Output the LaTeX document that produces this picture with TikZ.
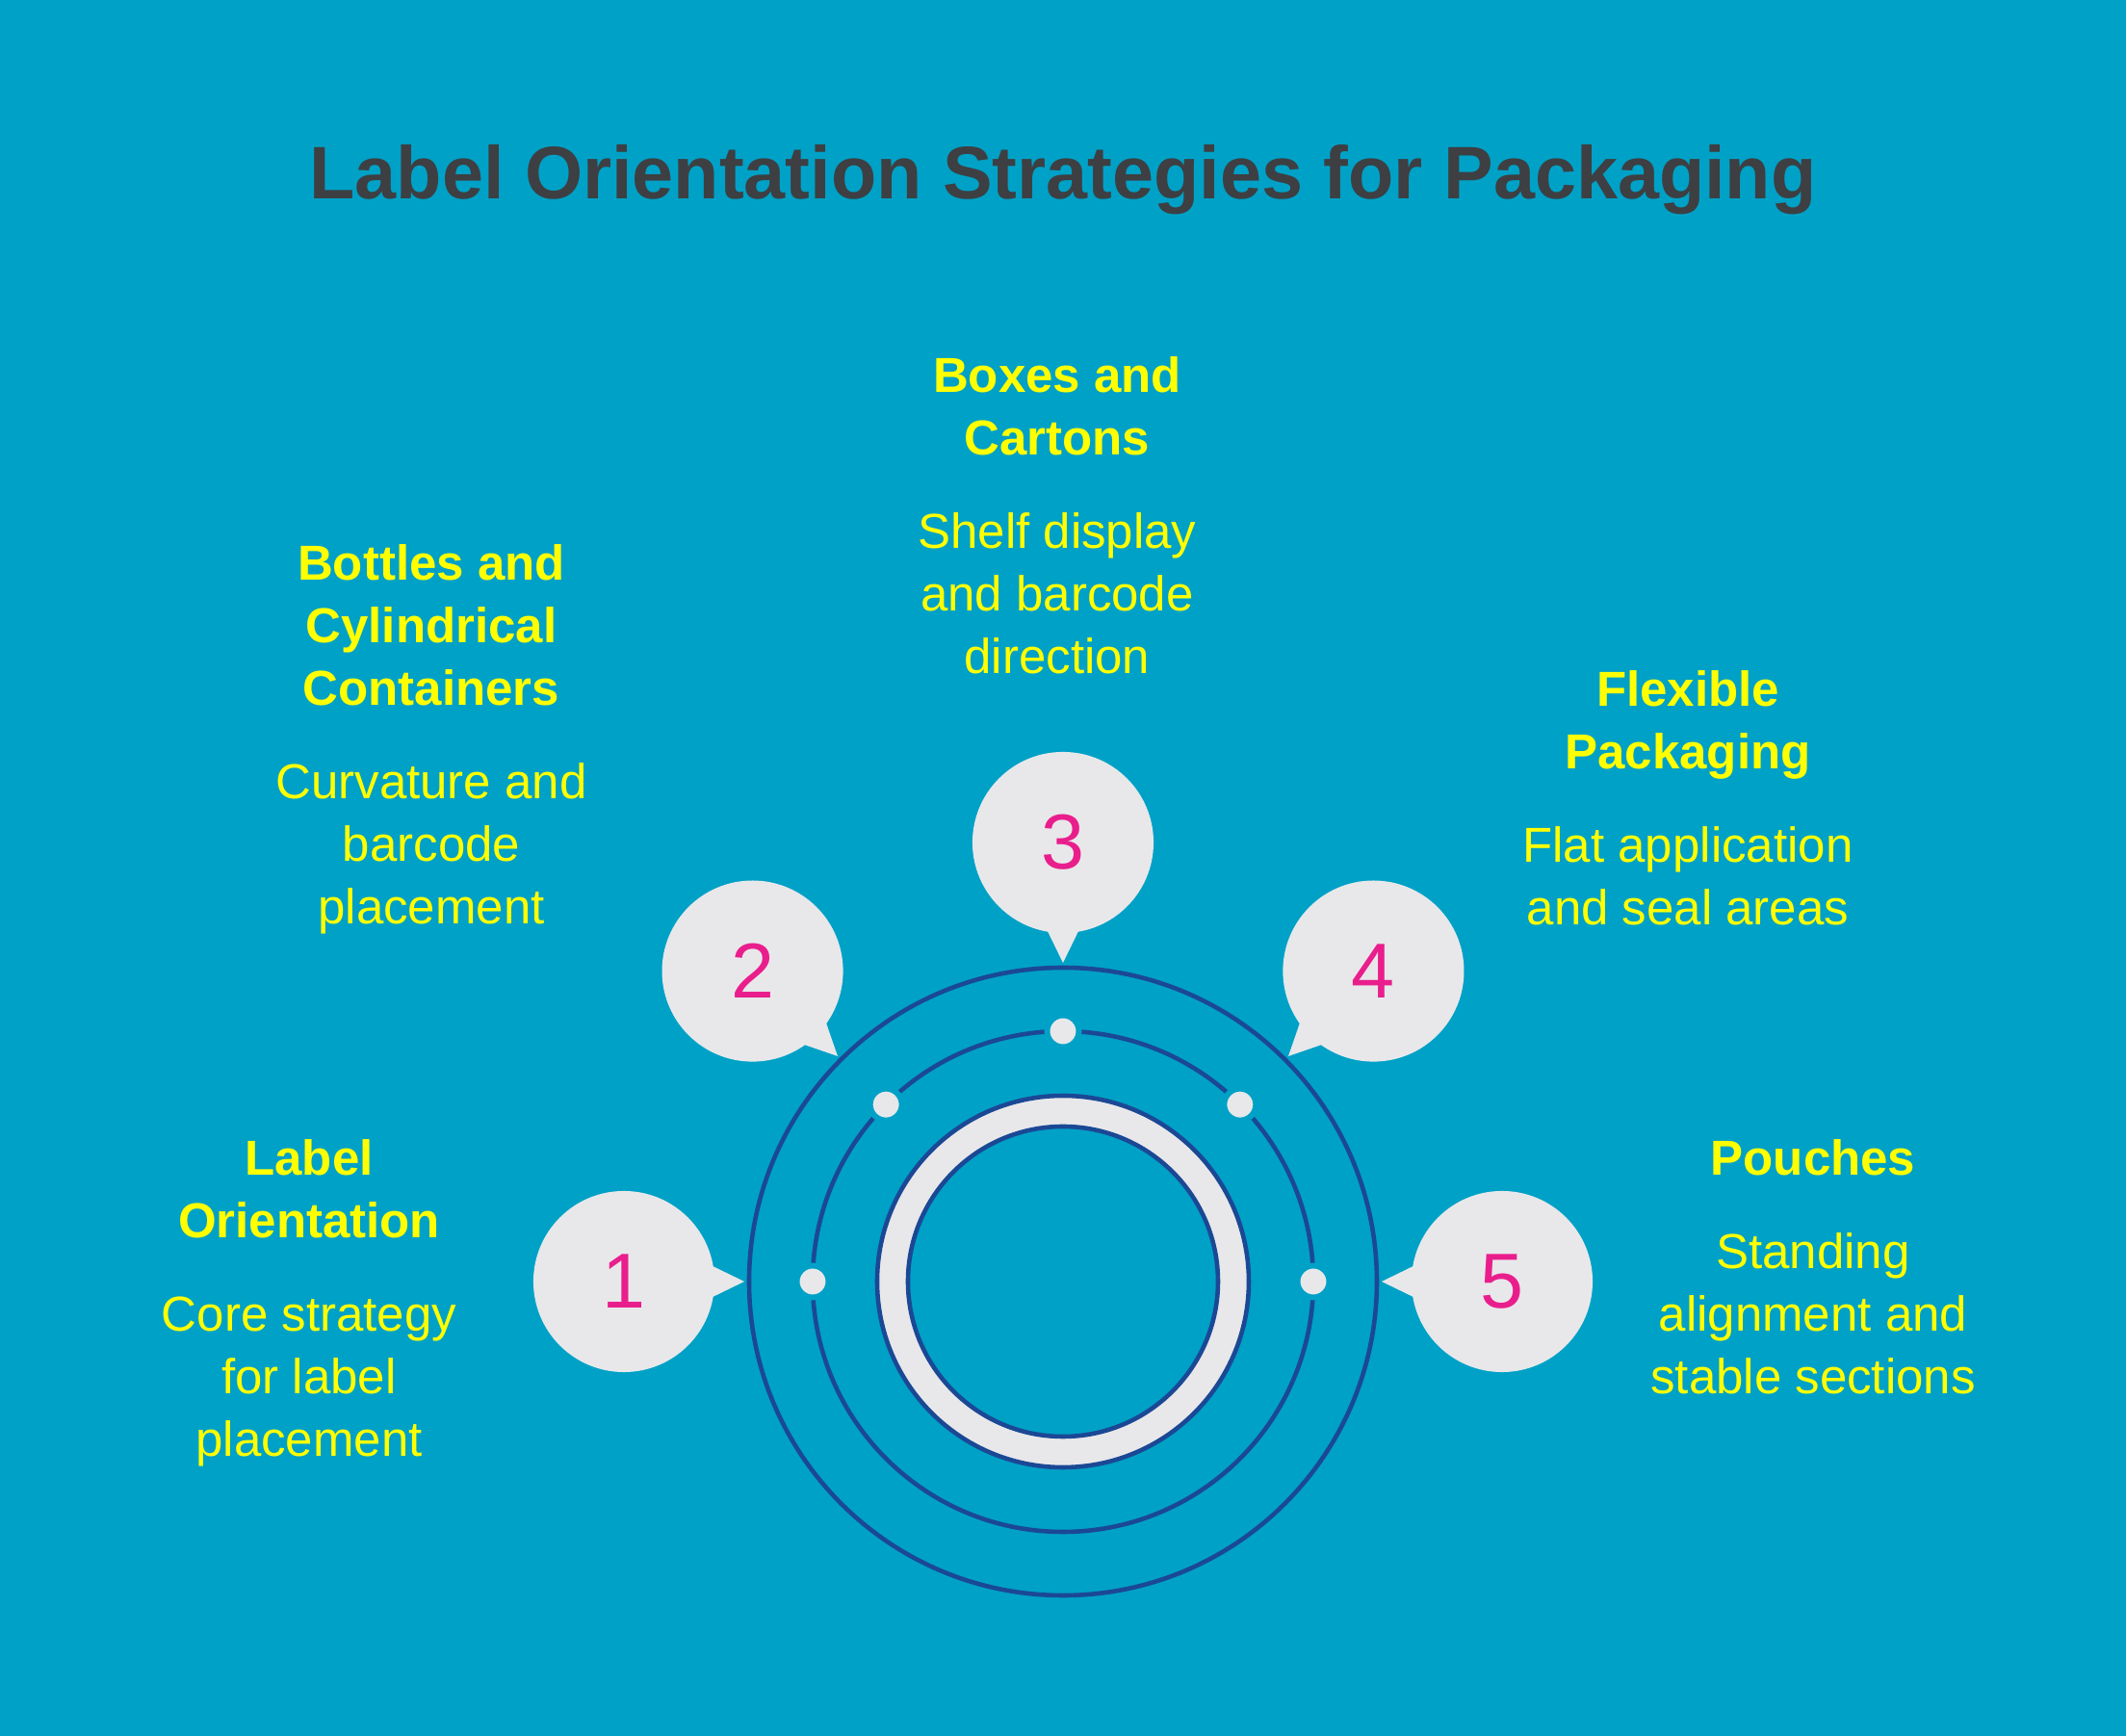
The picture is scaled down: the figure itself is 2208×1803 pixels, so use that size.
\documentclass[tikz,border=0pt]{standalone}
\usepackage{fontspec}
\setmainfont{Liberation Sans}
\usetikzlibrary{positioning,calc}
\definecolor{bgblue}{HTML}{00A1C7}
\definecolor{ringblue}{HTML}{1B4895}
\definecolor{bubblegray}{HTML}{E8E8EA}
\definecolor{numpink}{HTML}{E91E8C}
\definecolor{textyellow}{HTML}{FFFF00}
\definecolor{titlegray}{HTML}{3D3F42}

\tikzset{
  ringline/.style={draw=ringblue, line width=1.3pt},
  bubble/.style={circle, fill=bubblegray, minimum size=1.88cm, inner sep=0pt,
    text=numpink, font=\fontsize{23}{23}\selectfont},
  dot/.style={circle, fill=bubblegray, draw=bgblue, line width=1.7pt,
    minimum size=0.33cm, inner sep=0pt},
  blurb/.style={align=center, text=textyellow, anchor=north, inner sep=0pt,
    font=\fontsize{14.5}{18.5}\selectfont},
}

\begin{document}
\begin{tikzpicture}[x=0.01cm, y=0.01cm]
% canvas
\fill[bgblue] (-1104,-472) rectangle (1104,1331);
\useasboundingbox (-1104,-472) rectangle (1104,1331);

% title
\node[font=\bfseries\fontsize{22}{26}\selectfont, text=titlegray, anchor=base] (title)
  at (0,1124) {Label Orientation Strategies for Packaging};

% rings
\draw[ringline] (0,0) circle (326);
\draw[ringline] (0,0) circle (260);
\fill[bubblegray, even odd rule] (0,0) circle (193) (0,0) circle (161);
\draw[ringline] (0,0) circle (193);
\draw[ringline] (0,0) circle (161);

% dots and numbered bubbles
\foreach \a/\n in {180/1,135/2,90/3,45/4,0/5}{
  \node[dot] (d\n) at (\a:260) {};
  \fill[bubblegray, rotate=\a] (331,0) -- (370,19) -- (370,-19) -- cycle;
  \node[bubble] (b\n) at (\a:456) {\n};
}

% texts
\node[blurb] (t1) at (-783,148) {\textbf{Label}\\\textbf{Orientation}\\[9pt]Core strategy\\for label\\placement};
\node[blurb] (t2) at (-656,766) {\textbf{Bottles and}\\\textbf{Cylindrical}\\\textbf{Containers}\\[9pt]Curvature and\\barcode\\placement};
\node[blurb] (t3) at (-6,961) {\textbf{Boxes and}\\\textbf{Cartons}\\[9pt]Shelf display\\and barcode\\direction};
\node[blurb] (t4) at (649,635) {\textbf{Flexible}\\\textbf{Packaging}\\[9pt]Flat application\\and seal areas};
\node[blurb] (t5) at (779,148) {\textbf{Pouches}\\[9pt]Standing\\alignment and\\stable sections};
\end{tikzpicture}
\end{document}
